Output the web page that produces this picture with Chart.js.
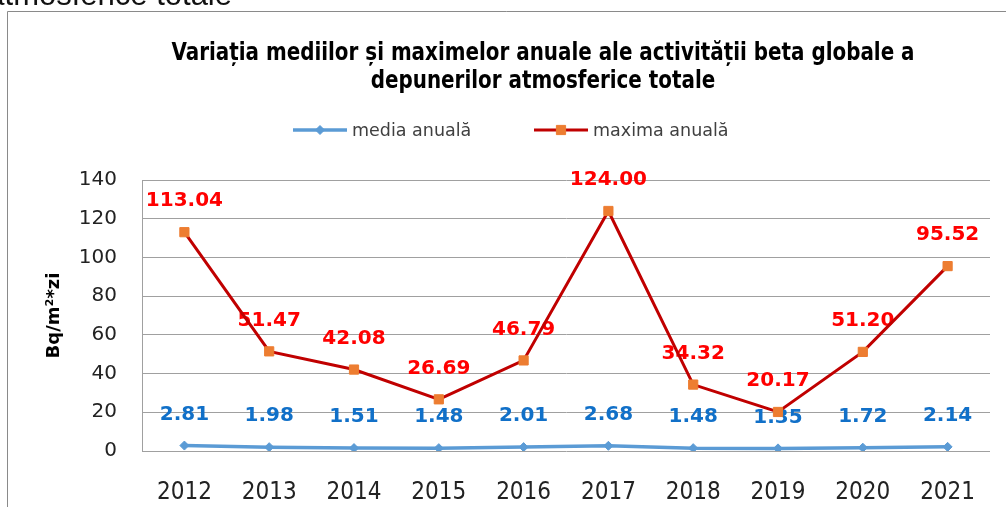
<!DOCTYPE html>
<html>
<head>
<meta charset="utf-8">
<script src="https://cdn.jsdelivr.net/npm/chart.js@4.4.0/dist/chart.umd.min.js"></script>
<style>
    html, body { margin: 0; padding: 0; background: #fff; }
    canvas { display: block; }
</style>
</head>
<body>
<canvas id="beta-chart" width="1006" height="507"></canvas>
<script>
const years = ['2012', '2013', '2014', '2015', '2016', '2017', '2018', '2019', '2020', '2021'];
const mediaAnuala = [2.81, 1.98, 1.51, 1.48, 2.01, 2.68, 1.48, 1.35, 1.72, 2.14];
const maximaAnuala = [113.04, 51.47, 42.08, 26.69, 46.79, 124.00, 34.32, 20.17, 51.20, 95.52];
const yTicks = [0, 20, 40, 60, 80, 100, 120, 140];

const titleLines = [
    'Variația mediilor și maximelor anuale ale activității beta globale a',
    'depunerilor atmosferice totale'
];
const legendNames = ['media anuală', 'maxima anuală'];
const yTitle = 'Bq/m²*zi';

const NARROW = '"Liberation Sans Narrow", "DejaVu Sans Condensed", "Liberation Sans", sans-serif';
const WIDE = '"DejaVu Sans", sans-serif';

function drawFrame(ctx) {
    // piece of the page caption above the chart, cut off by the screenshot
    ctx.save();
    ctx.fillStyle = '#111';
    ctx.font = '31px "Liberation Sans", Arial, sans-serif';
    ctx.textAlign = 'right';
    ctx.textBaseline = 'alphabetic';
    ctx.fillText('atmosferice totale', 232, 5);

    ctx.strokeStyle = '#8a8a8a';
    ctx.lineWidth = 1;
    ctx.beginPath();
    ctx.moveTo(7.5, 507);
    ctx.lineTo(7.5, 11.5);
    ctx.lineTo(1006, 11.5);
    ctx.stroke();
    ctx.restore();
}

function drawTitle(ctx) {
    ctx.save();
    ctx.font = 'bold 24px ' + NARROW;
    ctx.fillStyle = '#000';
    ctx.textAlign = 'center';
    ctx.textBaseline = 'alphabetic';
    const sx = 743 / ctx.measureText(titleLines[0]).width;
    ctx.translate(543, 0);
    ctx.scale(sx, 1);
    ctx.fillText(titleLines[0], 0, 60);
    ctx.fillText(titleLines[1], 0, 88);
    ctx.restore();
}

function drawLegend(chart) {
    const ctx = chart.ctx;
    const starts = [293, 534];
    const y = 130;
    ctx.save();
    chart.data.datasets.forEach((ds, i) => {
        const x = starts[i];
        ctx.strokeStyle = ds.borderColor;
        ctx.lineWidth = ds.borderWidth;
        ctx.beginPath();
        ctx.moveTo(x, y);
        ctx.lineTo(x + 54, y);
        ctx.stroke();

        ctx.fillStyle = ds.pointBackgroundColor;
        ctx.strokeStyle = ds.pointBorderColor;
        ctx.lineWidth = ds.pointBorderWidth;
        Chart.helpers.drawPoint(ctx, {
            pointStyle: ds.pointStyle,
            radius: ds.pointRadius,
            rotation: 0,
            borderWidth: ds.pointBorderWidth
        }, x + 27, y);

        ctx.fillStyle = '#404040';
        ctx.font = '17.5px ' + WIDE;
        ctx.textAlign = 'left';
        ctx.textBaseline = 'middle';
        ctx.fillText(ds.label, x + 59, y + 1);
    });
    ctx.restore();
}

const decorations = {
    id: 'decorations',
    beforeDraw(chart) {
        drawFrame(chart.ctx);
        drawTitle(chart.ctx);
        drawLegend(chart);
    }
};

const valueLabels = {
    id: 'valueLabels',
    beforeDatasetsDraw(chart) {
        const ctx = chart.ctx;
        ctx.save();
        ctx.font = 'bold 20px ' + WIDE;
        ctx.textAlign = 'center';
        ctx.textBaseline = 'middle';
        chart.data.datasets.forEach((ds, i) => {
            const meta = chart.getDatasetMeta(i);
            ctx.fillStyle = ds.labelColor;
            meta.data.forEach((pt, j) => {
                ctx.fillText(ds.data[j].toFixed(2), pt.x, pt.y - 31);
            });
        });
        ctx.restore();
    }
};

new Chart(document.getElementById('beta-chart'), {
    type: 'line',
    data: {
        labels: years,
        datasets: [{
            label: legendNames[0],
            data: mediaAnuala,
            borderColor: '#5b9bd5',
            borderWidth: 3.5,
            pointStyle: 'rectRot',
            pointRadius: 4.5,
            pointBackgroundColor: '#5b9bd5',
            pointBorderColor: '#5b9bd5',
            pointBorderWidth: 1,
            labelColor: '#1170c8',
            tension: 0
        }, {
            label: legendNames[1],
            data: maximaAnuala,
            borderColor: '#c00000',
            borderWidth: 3,
            pointStyle: 'rect',
            pointRadius: 6.5,
            pointBackgroundColor: '#ed7d31',
            pointBorderColor: '#ed7d31',
            pointBorderWidth: 1,
            labelColor: '#ff0000',
            tension: 0
        }]
    },
    options: {
        responsive: false,
        animation: false,
        layout: {
            padding: { left: 44, right: 16, top: 180, bottom: 0 }
        },
        plugins: {
            legend: { display: false },
            title: { display: false },
            tooltip: { enabled: false }
        },
        scales: {
            x: {
                offset: true,
                grid: { display: false },
                border: { display: false },
                ticks: {
                    color: '#222',
                    padding: 19,
                    font: { family: NARROW, size: 24 }
                },
                afterFit: (scale) => { scale.height = 56; }
            },
            y: {
                min: 0,
                max: 140,
                afterBuildTicks: (scale) => {
                    scale.ticks = yTicks.map((v) => ({ value: v }));
                },
                grid: { color: '#a0a0a0', lineWidth: 1, drawTicks: false },
                border: { display: true, color: '#a0a0a0', width: 1 },
                ticks: {
                    color: '#222',
                    padding: 25,
                    font: { family: WIDE, size: 20 }
                },
                title: {
                    display: true,
                    text: yTitle,
                    color: '#000',
                    padding: { top: 0, bottom: 0 },
                    font: { family: WIDE, size: 18, weight: 'bold' }
                },
                afterFit: (scale) => { scale.width = 98; }
            }
        }
    },
    plugins: [decorations, valueLabels]
});
</script>
</body>
</html>
